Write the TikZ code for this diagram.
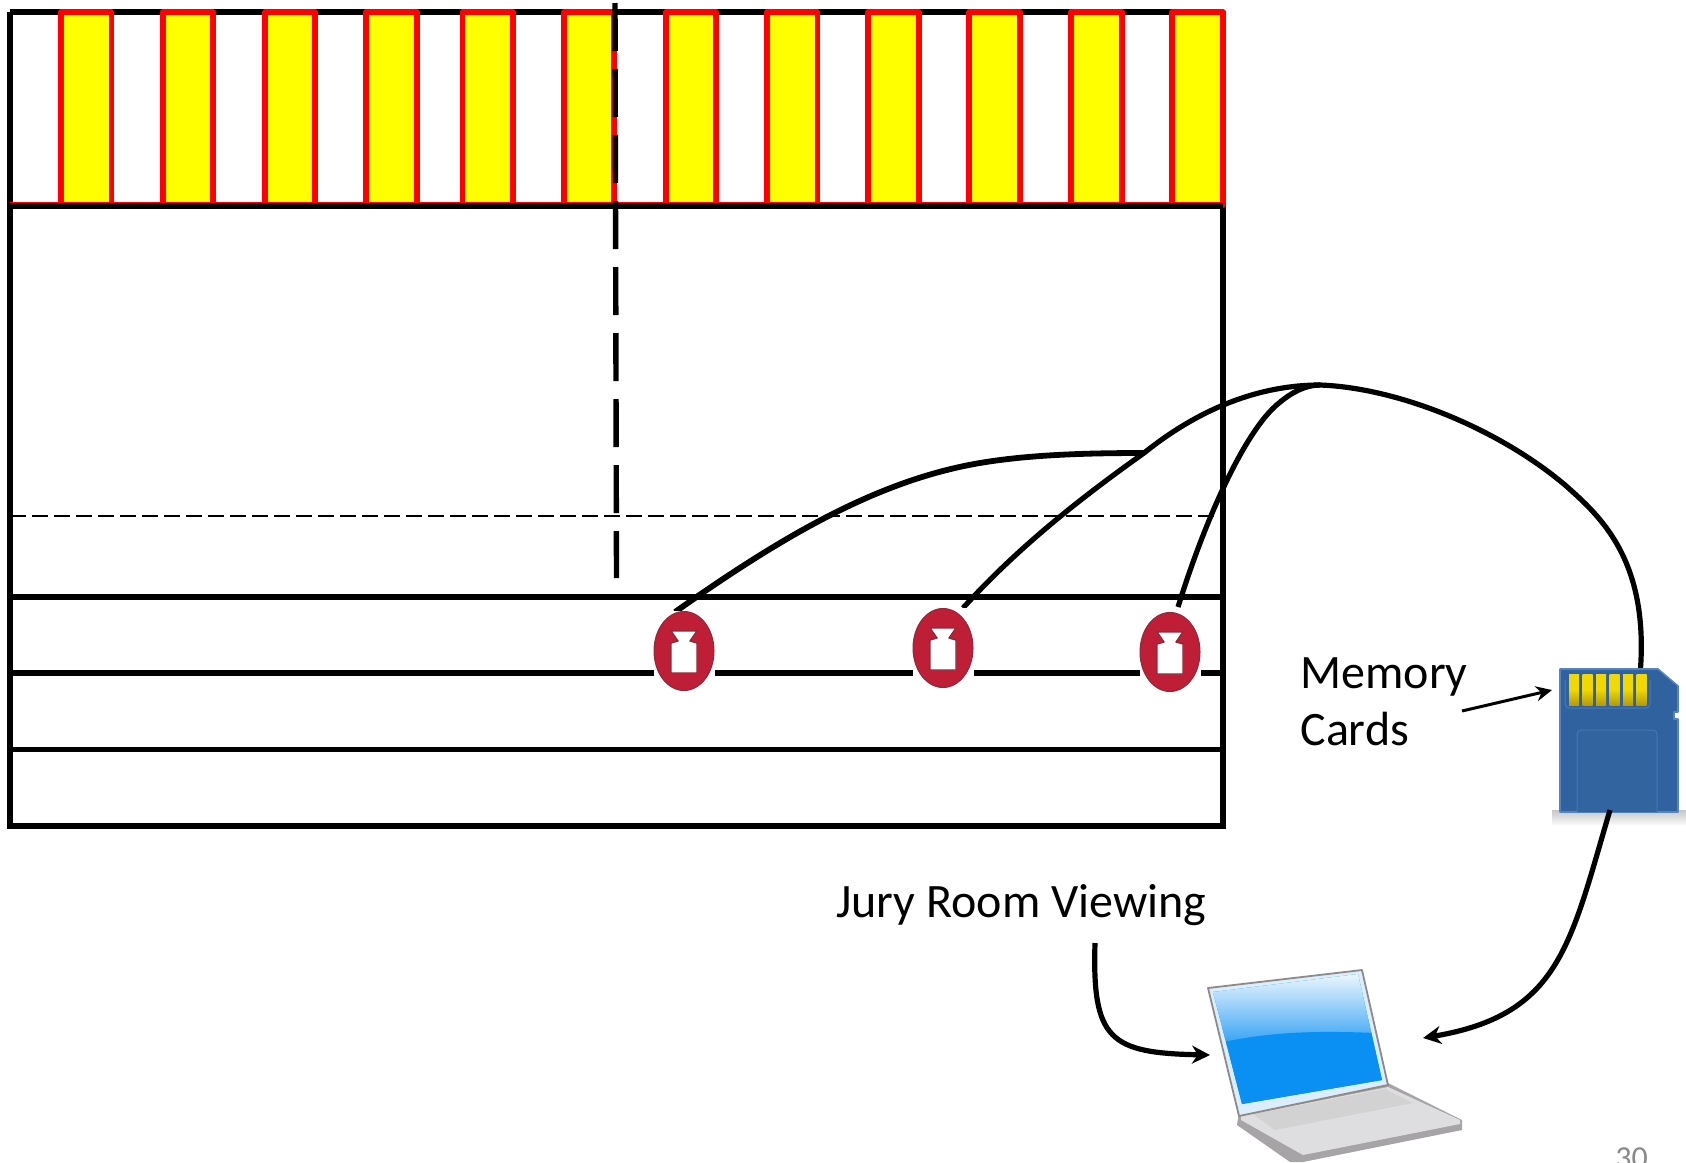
\documentclass[tikz,border=0pt]{standalone}
\usepackage{fontspec}
\setmainfont{Carlito}
\usetikzlibrary{arrows.meta,shapes.geometric,calc}
\definecolor{wred}{HTML}{BE1E36}
\definecolor{wredd}{HTML}{8E2A38}
\definecolor{sdblue}{HTML}{2F629F}
\definecolor{sdedge}{HTML}{5585BC}
\definecolor{sdpanel}{HTML}{32659F}
\definecolor{gold}{HTML}{F0D800}
\definecolor{goldd}{HTML}{B59A10}
\definecolor{scr}{HTML}{0A8FF2}
\definecolor{lapg}{HTML}{DEDEE0}
\definecolor{lapd}{HTML}{A6A4A6}
\definecolor{lidedge}{HTML}{8F8A88}
\definecolor{puret}{RGB}{255,255,0}
\definecolor{purer}{RGB}{255,0,0}
\definecolor{numgray}{HTML}{898989}
\tikzset{
  x=0.5pt,y=-0.5pt,
  wall/.style={line width=2.7pt,black,line join=miter},
  barbox/.style={draw=purer,fill=puret,line width=2.8pt,line join=round},
  wire/.style={line width=2.6pt,black,line join=round},
  wirehead/.style={line width=2.6pt,black,-{Stealth[length=9pt,width=9pt]}},
  lbl/.style={inner sep=0pt,font=\fontsize{24}{28}\selectfont,anchor=base west},
  weightbg/.style={fill=white,draw=none,minimum width=30.5pt,minimum height=40pt,inner sep=0pt,rectangle},
  weight/.style={fill=wred,draw=wredd,line width=0.5pt,ellipse,minimum width=30pt,minimum height=39.5pt,inner sep=0pt},
}
\newcommand{\weightmark}[2]{%
  \node[weightbg] (#2bg) at (#1) {};
  \node[weight] (#2) at (#1) {};
  \draw[wredd,line width=0.7pt,fill=white,line join=round] ($(#2)+(-13,-20)$) -- ($(#2)+(13,-20)$) -- ($(#2)+(6,-10)$) -- ($(#2)+(13,-8)$) -- ($(#2)+(13,22)$) -- ($(#2)+(-13,22)$) -- ($(#2)+(-13,-8)$) -- ($(#2)+(-6,-10)$) -- cycle;
}
\begin{document}
\begin{tikzpicture}
\useasboundingbox (0,0) rectangle (1686,1162);
% walls first
\draw[wall] (10,12) -- (1223,12);
\draw[wall] (10,12) -- (10,826) -- (1223,826) -- (1223,205);
% bars
\foreach \a/\b in {61/111.5,163/213,265/315,366/417,462.5/513,564/614,666/716,767/817.5,868/919,969/1020,1071/1122,1172/1223}
  \draw[barbox] (\a,12) rectangle (\b,205);
\draw[purer,line width=1.2pt] (10,203) -- (1223,203);
\foreach \y in {206,597,673,749.5}
  \draw[wall] (10,\y) -- (1223,\y);
% dashed lines
\draw[black,line width=0.8pt,dash pattern=on 8pt off 3pt] (10,516) -- (1223,516);
\draw[wall,dash pattern=on 24pt off 9pt] (615,3) -- (616.5,578);
% wires
\coordinate (joinA) at (1320,385);
\coordinate (joinB) at (1144,453);
\coordinate (w1top) at (675,612);
\coordinate (w1mid) at (955,468);
\coordinate (w2top) at (963,608);
\coordinate (w3top) at (1178,607);
\coordinate (w3mid) at (1279,403);
\coordinate (archmid) at (1565,485);
\coordinate (cardtop) at (1640,675);
\coordinate (cardbot) at (1610,810);
\coordinate (laptopR) at (1423,1038);
\coordinate (laptopL) at (1210,1055);
\coordinate (juryfoot) at (1095,943);
\coordinate (memfoot) at (1462,711);
\coordinate (cardL) at (1552,690);
\draw[wire,line width=2.9pt] (w1top) .. controls (770,545) and (860,490) .. (w1mid) .. controls (1010,455) and (1080,453) .. (joinB);
\draw[wire] (w2top) .. controls (1020,545) and (1085,495) .. (joinB) .. controls (1200,408) and (1260,385) .. (joinA);
\draw[wire] (w3top) .. controls (1205,520) and (1245,430) .. (w3mid) .. controls (1292,392) and (1306,385) .. (joinA);
\draw[wire] (joinA) .. controls (1400,388) and (1500,430) .. (archmid) .. controls (1600,516) and (1650,560) .. (cardtop);
% weights
\weightmark{684,651}{w1}
\weightmark{943,648}{w2}
\weightmark{1170,652}{w3}
% SD card
\shade[top color=gray!45,bottom color=white] (1552,810) rectangle (1686,826);
\node[inner sep=0pt,minimum size=0pt] (card) at (1619,740) {};
\draw[sdedge,fill=sdblue,line width=0.8pt,line join=round] (1560,669) -- (1658,669) -- (1678,686) -- (1678,712) -- (1674,712) -- (1674,719) -- (1678,719) -- (1678,812) -- (1560,812) -- cycle;
\draw[sdedge!60!sdblue,line width=0.5pt,fill=sdpanel,rounded corners=2pt] (1577,812) -- (1577,730) -- (1657,730) -- (1657,812);
\draw[sdedge!70!sdblue,line width=0.5pt,rounded corners=2pt] (1565,680) -- (1565,708) -- (1650,708) -- (1650,680);
\foreach \a in {1569,1582.5,1596,1609.5,1623,1636.5}
  \shade[top color=gold,bottom color=goldd,middle color=gold] (\a,674) rectangle ++(10,31);
% laptop
\fill[lapd] (1239,1112) -- (1388,1083) -- (1462,1120) -- (1462,1130) -- (1303,1162) -- (1290,1162) -- (1237,1125) -- cycle;
\fill[lapg] (1241,1116) -- (1388,1087) -- (1460,1120) -- (1460,1124) -- (1303,1155) -- (1241,1120) -- cycle;
\fill[gray!35] (1253,1114) -- (1385,1089) -- (1413,1103) -- (1275,1130) -- cycle;
\draw[lidedge,fill=white!85!scr,line width=0.9pt,line join=round] (1208,988) -- (1362,970) -- (1388,1085) -- (1239,1116) -- cycle;
\begin{scope}
  \clip (1213,992) -- (1358,974) -- (1382,1080) -- (1242,1104) -- cycle;
  \fill[scr] (1205,960) rectangle (1395,1110);
  \shade[top color=white!92!scr,bottom color=scr!78!white] (1205,974) rectangle (1395,1040);
  \fill[scr] (1205,1046) .. controls (1250,1036) and (1290,1028) .. (1395,1034) -- (1395,1110) -- (1205,1110) -- cycle;
\end{scope}
\node[inner sep=0pt,minimum size=0pt] (laptop) at (1330,1060) {};
% lower arrows
\draw[wirehead] (cardbot) .. controls (1570,945) and (1560,1015) .. (laptopR);
\draw[wirehead] (juryfoot) .. controls (1092,1040) and (1110,1053) .. (laptopL);
\draw[line width=1.5pt,-{Stealth[length=8pt,width=7.5pt]}] (memfoot) -- (cardL);
% text
\node[lbl] (mem) at (1300,688) {Memory};
\node[lbl] (crd) at (1300,745) {Cards};
\node[lbl] (jury) at (836,917) {Jury Room Viewing};
\node[inner sep=0pt,anchor=base west,text=numgray,font=\fontsize{16}{18}\selectfont] (num) at (1615,1168) {30};
\end{tikzpicture}
\end{document}
